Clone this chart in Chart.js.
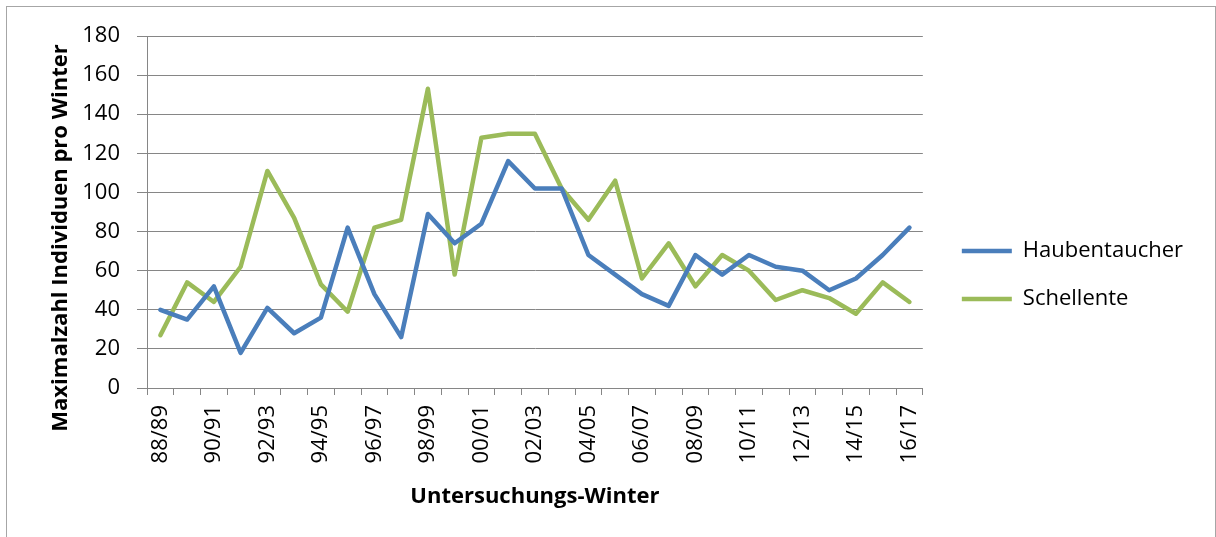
<!DOCTYPE html>
<html>
<head>
<meta charset="utf-8">
<script src="https://cdn.jsdelivr.net/npm/chart.js@4/dist/chart.umd.min.js"></script>
<style>
  html, body { margin: 0; padding: 0; background: #fff; }
  #wrap { position: relative; width: 1216px; height: 537px; overflow: hidden; }
  #frame { position: absolute; left: 6px; top: 6px; width: 1210px; height: 600px; box-sizing: border-box; border: 1px solid #a6a6a6; }
  #c { position: absolute; left: 0; top: 0; }
</style>
</head>
<body>
<div id="wrap">
  <div id="frame"></div>
  <canvas id="c" width="1216" height="537"></canvas>
</div>
<script>
const winters = ['88/89','89/90','90/91','91/92','92/93','93/94','94/95','95/96','96/97','97/98',
                 '98/99','99/00','00/01','01/02','02/03','03/04','04/05','05/06','06/07','07/08',
                 '08/09','09/10','10/11','11/12','12/13','13/14','14/15','15/16','16/17'];
const haubentaucher = [40,35,52,18,41,28,36,82,48,26,89,74,84,116,102,102,68,58,48,42,68,58,68,62,60,50,56,68,82];
const schellente = [27,54,44,62,111,87,53,39,82,86,153,58,128,130,130,102,86,106,56,74,52,68,60,45,50,46,38,54,44];
const seriesNames = ['Haubentaucher', 'Schellente'];
const yTicks = [0,20,40,60,80,100,120,140,160,180];
const xTitle = 'Untersuchungs-Winter';
const yTitle = 'Maximalzahl Individuen pro Winter';

const gridColor = '#868686';
const FONT = '"Open Sans", "Liberation Sans", sans-serif';

const yTitlePlugin = {
  id: 'yTitlePlugin',
  afterDraw(chart) {
    const ctx = chart.ctx;
    ctx.save();
    ctx.translate(61, 238);
    ctx.rotate(-Math.PI / 2);
    ctx.font = 'bold 22px ' + FONT;
    ctx.fillStyle = '#000';
    ctx.textAlign = 'center';
    ctx.textBaseline = 'middle';
    ctx.fillText(yTitle, 0, 0);
    ctx.restore();
  }
};

new Chart(document.getElementById('c'), {
  type: 'line',
  data: {
    labels: winters,
    datasets: [
      { label: seriesNames[0], data: haubentaucher, borderColor: '#4A7EBB', backgroundColor: '#4A7EBB',
        borderWidth: 4.5, pointRadius: 0, tension: 0, borderJoinStyle: 'round', borderCapStyle: 'round', yAxisID: 'y' },
      { label: seriesNames[1], data: schellente, borderColor: '#9BBB59', backgroundColor: '#9BBB59',
        borderWidth: 4.5, pointRadius: 0, tension: 0, borderJoinStyle: 'round', borderCapStyle: 'round', yAxisID: 'y' }
    ]
  },
  options: {
    responsive: false,
    devicePixelRatio: 1,
    animation: false,
    layout: { padding: { left: 0, top: 36, right: 23, bottom: 23 } },
    plugins: {
      tooltip: { enabled: false },
      legend: {
        position: 'right',
        align: 'center',
        labels: {
          usePointStyle: true,
          pointStyle: 'line',
          pointStyleWidth: 50,
          padding: 26,
          color: '#000',
          font: { family: FONT, size: 22 }
        }
      }
    },
    scales: {
      x: {
        type: 'category',
        offset: true,
        grid: { display: true, drawOnChartArea: false, drawTicks: true, tickLength: 7, offset: true, color: gridColor, lineWidth: 1 },
        border: { display: true, color: gridColor, width: 1 },
        ticks: {
          autoSkip: false, maxRotation: 90, minRotation: 90, padding: 10,
          color: '#000', font: { family: FONT, size: 22 },
          callback: function(value, index) { return index % 2 === 0 ? winters[index] : ''; }
        },
        title: { display: true, text: xTitle, color: '#000', font: { family: FONT, size: 22, weight: 'bold' }, padding: { top: 4, bottom: 4 } },
        afterFit: function(scale) { scale.height = 126; }
      },
      y: {
        position: 'left',
        min: 0, max: 180,
        afterBuildTicks: function(scale) { scale.ticks = yTicks.map(v => ({ value: v })); },
        grid: { color: gridColor, lineWidth: 1, tickLength: 10, drawTicks: true },
        border: { display: true, color: gridColor, width: 1 },
        ticks: { padding: 17, color: '#000', font: { family: FONT, size: 22 } },
        afterFit: function(scale) { scale.width = 147; }
      },
      y2: {
        position: 'right',
        display: false,
        afterFit: function(scale) { scale.width = 13; }
      }
    }
  },
  plugins: [yTitlePlugin]
});
</script>
</body>
</html>
